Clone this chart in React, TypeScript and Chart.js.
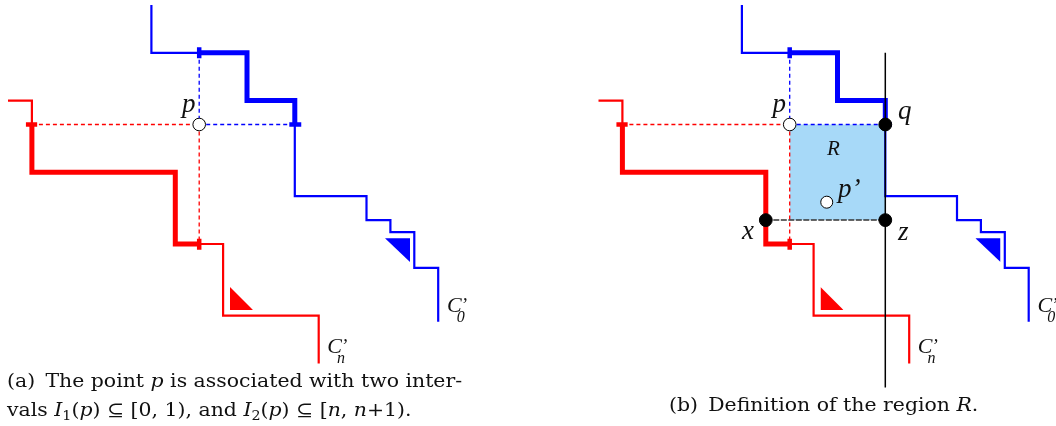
import React, { useEffect, useRef } from "react";
import { Chart, registerables } from "chart.js";

Chart.register(...registerables);

// ---------- data (diagram units, one unit = one grid step) ----------
type P = [number, number];

const blueThinStart: P[] = [[6, 0], [6, 2], [8, 2]];
const blueThick: P[] = [[8, 2], [10, 2], [10, 4], [12, 4], [12, 5]];
const blueThinEnd: P[] = [[12, 5], [12, 8], [15, 8], [15, 9], [16, 9], [16, 9.5], [17, 9.5], [17, 11], [18, 11], [18, 13.25]];

const redThinStart: P[] = [[0, 4], [1, 4], [1, 5]];
const redThick: P[] = [[1, 5], [1, 7], [7, 7], [7, 10], [8, 10]];
const redThinEnd: P[] = [[8, 10], [9, 10], [9, 13], [13, 13], [13, 15]];

const blueTicks: P[][] = [[[8, 1.77], [8, 2.23]], [[11.77, 5], [12.27, 5]]];
const redTicks: P[][] = [[[0.75, 5], [1.22, 5]], [[8, 9.78], [8, 10.24]]];

const dashRedH: P[] = [[1, 5], [8, 5]];
const dashBlueH: P[] = [[8, 5], [12, 5]];
const dashBlueV: P[] = [[8, 2], [8, 5]];
const dashRedV: P[] = [[8, 5], [8, 10]];

const redTriangleEdge: P[] = [[9.29, 11.8], [10.25, 12.76]];
const redTriangleBase = 12.76;
const blueTriangleEdge: P[] = [[15.77, 9.76], [16.82, 10.75]];
const blueTriangleBase = 9.76;

const pointP: P[] = [[8, 5]];

// panel (b) only
const regionTop: P[] = [[8, 5], [12, 5]];
const regionBottom = 9;
const sweepLine: P[] = [[12, 2], [12, 16]];
const xzLine: P[] = [[7, 9], [12, 9]];
const blackPoints: P[] = [[12, 5], [12, 9], [7, 9]];
const pointPPrime: P[] = [[9.55, 8.25]];

type Label = { text: string; x: number; y: number; align: "left" | "right"; size: number };
const labelsA: Label[] = [{ text: "p", x: 7.85, y: 4.48, align: "right", size: 27 }];
const labelsB: Label[] = [
  { text: "p", x: 7.85, y: 4.48, align: "right", size: 27 },
  { text: "q", x: 12.53, y: 4.75, align: "left", size: 27 },
  { text: "z", x: 12.53, y: 9.83, align: "left", size: 27 },
  { text: "x", x: 6.0, y: 9.79, align: "left", size: 27 },
  { text: "R", x: 9.56, y: 6.28, align: "left", size: 21 },
  { text: "p\u2019", x: 10.02, y: 8.03, align: "left", size: 27 },
];

type CurveLabel = { x: number; y: number; sub: string };
const curveLabels: CurveLabel[] = [
  { x: 18.37, y: 12.85, sub: "0" },
  { x: 13.36, y: 14.56, sub: "n" },
];

type Run = { t: string; s?: "i" | "sub" };
const captionA1: Run[] = [{ t: "(a)\u2002The point " }, { t: "p", s: "i" }, { t: " is associated with two inter-" }];
const captionA2: Run[] = [
  { t: "vals " }, { t: "I", s: "i" }, { t: "1", s: "sub" }, { t: "(" }, { t: "p", s: "i" },
  { t: ") \u2286 [0, 1), and " }, { t: "I", s: "i" }, { t: "2", s: "sub" }, { t: "(" }, { t: "p", s: "i" },
  { t: ") \u2286 [" }, { t: "n", s: "i" }, { t: ", " }, { t: "n", s: "i" }, { t: "+1)." },
];
const captionB: Run[] = [{ t: "(b)\u2002Definition of the region " }, { t: "R", s: "i" }, { t: "." }];

const captionPosA1 = { x: -0.04, y: 15.98 };
const captionPosA2 = { x: -0.04, y: 17.2 };
const captionPosB = { x: 2.95, y: 16.97 };

// ---------- layout constants ----------
const W = 1056;
const H = 426;
const UNIT = 23.9;
const ORIGIN_A = 8;
const ORIGIN_B = 598.5;
const ORIGIN_Y = 5;

const BLUE = "#0000ff";
const RED = "#ff0000";
const FILL_R = "#a7d9f8";
const INK = "#111111";
const MATH_FONT = '"Liberation Serif"';
const TEXT_FONT = '"DejaVu Serif"';
const CAPTION_SIZE = 18;
const CAPTION_STRETCH = 1.135;

const pts = (d: P[]) => d.map(([x, y]) => ({ x, y }));

function lineDs(data: P[], axis: string, color: string, width: number, order: number, dash: number[] = []) {
  return {
    data: pts(data),
    xAxisID: axis,
    yAxisID: "y",
    showLine: true,
    borderColor: color,
    borderWidth: width,
    borderDash: dash,
    borderJoinStyle: "miter",
    borderCapStyle: "butt",
    pointRadius: 0,
    pointHoverRadius: 0,
    tension: 0,
    fill: false,
    order,
  };
}

function fillDs(edge: P[], axis: string, color: string, base: number, order: number) {
  return {
    data: pts(edge),
    xAxisID: axis,
    yAxisID: "y",
    showLine: true,
    borderColor: "rgba(0,0,0,0)",
    borderWidth: 0,
    backgroundColor: color,
    pointRadius: 0,
    pointHoverRadius: 0,
    tension: 0,
    fill: { value: base },
    order,
  };
}

function pointDs(data: P[], axis: string, bg: string, radius: number, order: number) {
  return {
    data: pts(data),
    xAxisID: axis,
    yAxisID: "y",
    showLine: false,
    pointRadius: radius,
    pointHoverRadius: radius,
    pointBackgroundColor: bg,
    pointBorderColor: "#000",
    pointBorderWidth: 1,
    order,
  };
}

function panelDatasets(axis: string): any[] {
  return [
    fillDs(redTriangleEdge, axis, RED, redTriangleBase, 90),
    fillDs(blueTriangleEdge, axis, BLUE, blueTriangleBase, 90),
    lineDs(dashRedH, axis, RED, 1.3, 80, [4, 3]),
    lineDs(dashBlueH, axis, BLUE, 1.3, 80, [4, 3]),
    lineDs(dashBlueV, axis, BLUE, 1.3, 80, [4, 3]),
    lineDs(dashRedV, axis, RED, 1.3, 80, [4, 3]),
    lineDs(blueThinStart, axis, BLUE, 2.2, 70),
    lineDs(blueThinEnd, axis, BLUE, 2.2, 70),
    lineDs(redThinStart, axis, RED, 2.2, 70),
    lineDs(redThinEnd, axis, RED, 2.2, 70),
    lineDs(blueThick, axis, BLUE, 5, 60),
    lineDs(redThick, axis, RED, 5, 60),
    ...blueTicks.map((t) => lineDs(t, axis, BLUE, 4.5, 50)),
    ...redTicks.map((t) => lineDs(t, axis, RED, 4.5, 50)),
    pointDs(pointP, axis, "#fff", 6.3, 0),
  ];
}

function panelBExtras(axis: string): any[] {
  return [
    fillDs(regionTop, axis, FILL_R, regionBottom, 100),
    lineDs(sweepLine, axis, "#000", 1.5, 40),
    lineDs(xzLine, axis, "#333", 1.5, 40, [6, 1.5]),
    pointDs(blackPoints, axis, "#000", 6.4, 0),
    pointDs(pointPPrime, axis, "#fff", 6, 0),
  ];
}

function drawRuns(ctx: CanvasRenderingContext2D, runs: Run[], x: number, y: number, size: number) {
  ctx.save();
  ctx.translate(x, y);
  ctx.scale(CAPTION_STRETCH, 1);
  let cx = 0;
  for (const r of runs) {
    if (r.s === "i") ctx.font = `italic ${size}px ${TEXT_FONT}`;
    else if (r.s === "sub") ctx.font = `${size * 0.7}px ${TEXT_FONT}`;
    else ctx.font = `${size}px ${TEXT_FONT}`;
    const dy = r.s === "sub" ? size * 0.2 : 0;
    ctx.fillText(r.t, cx, dy);
    cx += ctx.measureText(r.t).width;
  }
  ctx.restore();
}

const textPlugin = {
  id: "diagramText",
  afterDatasetsDraw(chart: any) {
    const ctx: CanvasRenderingContext2D = chart.ctx;
    const ys = chart.scales.y;
    const panels: [string, Label[]][] = [["x", labelsA], ["x2", labelsB]];
    ctx.save();
    ctx.fillStyle = INK;
    ctx.textBaseline = "alphabetic";
    for (const [axis, labels] of panels) {
      const xs = chart.scales[axis];
      for (const l of labels) {
        ctx.font = `italic ${l.size}px ${MATH_FONT}`;
        ctx.textAlign = l.align;
        ctx.fillText(l.text, xs.getPixelForValue(l.x), ys.getPixelForValue(l.y));
      }
      ctx.textAlign = "left";
      for (const c of curveLabels) {
        const px = xs.getPixelForValue(c.x);
        const py = ys.getPixelForValue(c.y);
        ctx.font = `italic 22px ${MATH_FONT}`;
        ctx.fillText("C", px, py);
        const w = ctx.measureText("C").width;
        ctx.font = `italic 19px ${MATH_FONT}`;
        ctx.fillText("\u2019", px + w - 1, py - 1);
        ctx.font = `italic 16px ${MATH_FONT}`;
        ctx.fillText(c.sub, px + w - 5, py + 10);
      }
    }
    const xa = chart.scales.x;
    const xb = chart.scales.x2;
    drawRuns(ctx, captionA1, xa.getPixelForValue(captionPosA1.x), ys.getPixelForValue(captionPosA1.y), CAPTION_SIZE);
    drawRuns(ctx, captionA2, xa.getPixelForValue(captionPosA2.x), ys.getPixelForValue(captionPosA2.y), CAPTION_SIZE);
    drawRuns(ctx, captionB, xb.getPixelForValue(captionPosB.x), ys.getPixelForValue(captionPosB.y), CAPTION_SIZE);
    ctx.restore();
  },
};

export default function App() {
  const ref = useRef<HTMLCanvasElement>(null);
  useEffect(() => {
    document.body.style.margin = "0";
    const canvas = ref.current!;
    const chart = new Chart(canvas, {
      type: "scatter",
      data: { datasets: [...panelDatasets("x"), ...panelDatasets("x2"), ...panelBExtras("x2")] as any },
      options: {
        animation: false,
        responsive: false,
        maintainAspectRatio: false,
        events: [],
        layout: { padding: 0, autoPadding: false } as any,
        plugins: { legend: { display: false }, tooltip: { enabled: false }, title: { display: false } },
        scales: {
          x: { type: "linear", display: false, min: -ORIGIN_A / UNIT, max: (W - ORIGIN_A) / UNIT },
          x2: { type: "linear", axis: "x", position: "bottom", display: false, min: -ORIGIN_B / UNIT, max: (W - ORIGIN_B) / UNIT },
          y: { type: "linear", display: false, reverse: true, min: -ORIGIN_Y / UNIT, max: (H - ORIGIN_Y) / UNIT },
        } as any,
      },
      plugins: [textPlugin],
    });
    return () => chart.destroy();
  }, []);
  return (
    <div style={{ width: W, height: H, background: "#fff" }}>
      <canvas ref={ref} width={W} height={H} style={{ display: "block", width: W + "px", height: H + "px" }} />
    </div>
  );
}
